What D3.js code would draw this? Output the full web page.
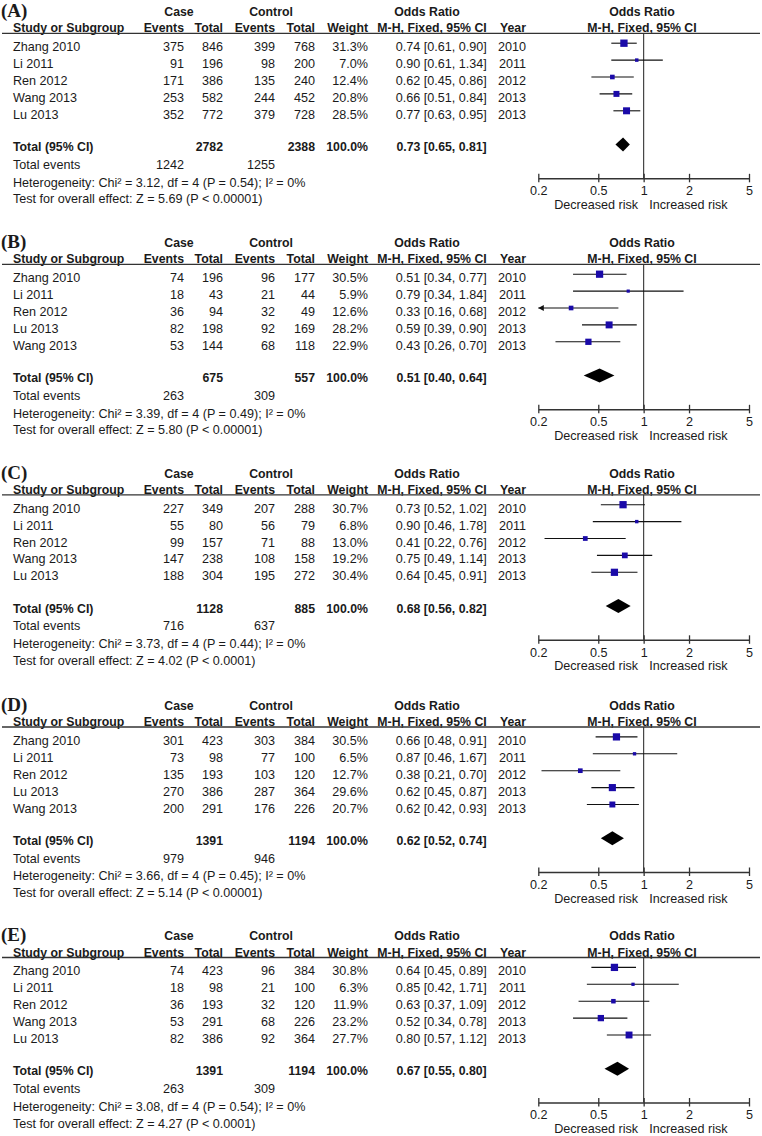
<!DOCTYPE html>
<html>
<head>
<meta charset="utf-8">
<script src="https://cdn.jsdelivr.net/npm/d3@7"></script>
<style>
  html, body { margin: 0; padding: 0; background: #fff; }
  svg { display: block; }
  text { font-family: "Liberation Sans", Arial, sans-serif; fill: #1a1a1a; }
</style>
</head>
<body>
<svg id="chart" width="762" height="1136"></svg>
<script>
// ---------------- DATA ----------------
const panelLabels = ["(A)", "(B)", "(C)", "(D)", "(E)"];

const studyNames = [
  ["Zhang 2010", "Li 2011", "Ren 2012", "Wang 2013", "Lu 2013"],
  ["Zhang 2010", "Li 2011", "Ren 2012", "Lu 2013", "Wang 2013"],
  ["Zhang 2010", "Li 2011", "Ren 2012", "Wang 2013", "Lu 2013"],
  ["Zhang 2010", "Li 2011", "Ren 2012", "Lu 2013", "Wang 2013"],
  ["Zhang 2010", "Li 2011", "Ren 2012", "Wang 2013", "Lu 2013"]
];
const caseEvents = [
  [375, 91, 171, 253, 352],
  [74, 18, 36, 82, 53],
  [227, 55, 99, 147, 188],
  [301, 73, 135, 270, 200],
  [74, 18, 36, 53, 82]
];
const caseTotals = [
  [846, 196, 386, 582, 772],
  [196, 43, 94, 198, 144],
  [349, 80, 157, 238, 304],
  [423, 98, 193, 386, 291],
  [423, 98, 193, 291, 386]
];
const controlEvents = [
  [399, 98, 135, 244, 379],
  [96, 21, 32, 92, 68],
  [207, 56, 71, 108, 195],
  [303, 77, 103, 287, 176],
  [96, 21, 32, 68, 92]
];
const controlTotals = [
  [768, 200, 240, 452, 728],
  [177, 44, 49, 169, 118],
  [288, 79, 88, 158, 272],
  [384, 100, 120, 364, 226],
  [384, 100, 120, 226, 364]
];
const weights = [
  [31.3, 7.0, 12.4, 20.8, 28.5],
  [30.5, 5.9, 12.6, 28.2, 22.9],
  [30.7, 6.8, 13.0, 19.2, 30.4],
  [30.5, 6.5, 12.7, 29.6, 20.7],
  [30.8, 6.3, 11.9, 23.2, 27.7]
];
const oddsRatios = [
  [0.74, 0.90, 0.62, 0.66, 0.77],
  [0.51, 0.79, 0.33, 0.59, 0.43],
  [0.73, 0.90, 0.41, 0.75, 0.64],
  [0.66, 0.87, 0.38, 0.62, 0.62],
  [0.64, 0.85, 0.63, 0.52, 0.80]
];
const ciLower = [
  [0.61, 0.61, 0.45, 0.51, 0.63],
  [0.34, 0.34, 0.16, 0.39, 0.26],
  [0.52, 0.46, 0.22, 0.49, 0.45],
  [0.48, 0.46, 0.21, 0.45, 0.42],
  [0.45, 0.42, 0.37, 0.34, 0.57]
];
const ciUpper = [
  [0.90, 1.34, 0.86, 0.84, 0.95],
  [0.77, 1.84, 0.68, 0.90, 0.70],
  [1.02, 1.78, 0.76, 1.14, 0.91],
  [0.91, 1.67, 0.70, 0.87, 0.93],
  [0.89, 1.71, 1.09, 0.78, 1.12]
];
const studyYears = [
  [2010, 2011, 2012, 2013, 2013],
  [2010, 2011, 2012, 2013, 2013],
  [2010, 2011, 2012, 2013, 2013],
  [2010, 2011, 2012, 2013, 2013],
  [2010, 2011, 2012, 2013, 2013]
];
const pooledOR    = [0.73, 0.51, 0.68, 0.62, 0.67];
const pooledLower = [0.65, 0.40, 0.56, 0.52, 0.55];
const pooledUpper = [0.81, 0.64, 0.82, 0.74, 0.80];
const totalCase    = [2782, 675, 1128, 1391, 1391];
const totalControl = [2388, 557, 885, 1194, 1194];
const totalEventsCase    = [1242, 263, 716, 979, 263];
const totalEventsControl = [1255, 309, 637, 946, 309];
const hetChi2 = ["3.12", "3.39", "3.73", "3.66", "3.08"];
const hetDf   = [4, 4, 4, 4, 4];
const hetP    = ["0.54", "0.49", "0.44", "0.45", "0.54"];
const hetI2   = [0, 0, 0, 0, 0];
const overallZ = ["5.69", "5.80", "4.02", "5.14", "4.27"];
const overallP = ["P < 0.00001", "P < 0.00001", "P < 0.0001", "P < 0.00001", "P < 0.0001"];
const axisTicks = [0.2, 0.5, 1, 2, 5];
const axisDomain = [0.2, 5];

// ---------------- LAYOUT ----------------
const svg = d3.select("#chart");
const panelLineY = [33.3, 264.3, 494.8, 727, 957.5];
const FS = 12.6, FSB = 12.3;
const col = { study: 13, caseEv: 184, caseTot: 223, ctrlEv: 275, ctrlTot: 315, weight: 368, or: 486.7, year: 526 };
const x = d3.scaleLog().domain(axisDomain).range([538.3, 749]);
const sizeScale = d3.scaleSqrt().domain([0, 100]).range([0, 13.1]);
const fmt2 = d3.format(".2f");
const fmtW = d3.format(".1f");
const rowCenter = i => 13.4 + 16.9 * i;
const textColor = "#1a1a1a";
const lineColor = "#333";
const squareColor = "#1a0aa8";

function txt(g, s, xx, yc, anchor, bold, size) {
  const fs = size || (bold ? FSB : FS);
  return g.append("text")
    .attr("x", xx)
    .attr("y", yc + fs * 0.358)
    .attr("text-anchor", anchor)
    .attr("font-size", fs)
    .attr("font-weight", bold ? "bold" : "normal")
    .text(s);
}

panelLabels.forEach((lab, p) => {
  const g = svg.append("g").attr("transform", `translate(0,${panelLineY[p]})`);

  // panel label
  g.append("text").attr("x", 1).attr("y", -16.3)
    .attr("font-weight", "bold").attr("font-size", 19)
    .style("font-family", "'Liberation Serif', 'Times New Roman', serif")
    .text(lab);

  // group headers
  txt(g, "Case", 179, -21.6, "middle", true);
  txt(g, "Control", 271, -21.6, "middle", true);
  txt(g, "Odds Ratio", 427, -21.6, "middle", true);
  txt(g, "Odds Ratio", 642, -21.6, "middle", true);

  // column headers
  const hy = -5.3;
  txt(g, "Study or Subgroup", col.study, hy, "start", true);
  txt(g, "Events", col.caseEv, hy, "end", true);
  txt(g, "Total", col.caseTot, hy, "end", true);
  txt(g, "Events", col.ctrlEv, hy, "end", true);
  txt(g, "Total", col.ctrlTot, hy, "end", true);
  txt(g, "Weight", col.weight, hy, "end", true);
  txt(g, "M-H, Fixed, 95% CI", col.or, hy, "end", true);
  txt(g, "Year", col.year, hy, "end", true);
  txt(g, "M-H, Fixed, 95% CI", 642, hy, "middle", true);

  // header rule
  g.append("line").attr("x1", 2).attr("x2", 760).attr("y1", 0).attr("y2", 0)
    .attr("stroke", lineColor).attr("stroke-width", 1.3);

  // study rows
  studyNames[p].forEach((name, i) => {
    const yc = rowCenter(i);
    txt(g, name, col.study, yc, "start", false);
    txt(g, caseEvents[p][i], col.caseEv, yc, "end", false);
    txt(g, caseTotals[p][i], col.caseTot, yc, "end", false);
    txt(g, controlEvents[p][i], col.ctrlEv, yc, "end", false);
    txt(g, controlTotals[p][i], col.ctrlTot, yc, "end", false);
    txt(g, fmtW(weights[p][i]) + "%", col.weight, yc, "end", false);
    txt(g, `${fmt2(oddsRatios[p][i])} [${fmt2(ciLower[p][i])}, ${fmt2(ciUpper[p][i])}]`, col.or, yc, "end", false);
    txt(g, studyYears[p][i], col.year, yc, "end", false);
  });

  // totals
  const ty = 113.4;
  txt(g, "Total (95% CI)", col.study, ty, "start", true);
  txt(g, totalCase[p], col.caseTot, ty, "end", true);
  txt(g, totalControl[p], col.ctrlTot, ty, "end", true);
  txt(g, "100.0%", col.weight, ty, "end", true);
  txt(g, `${fmt2(pooledOR[p])} [${fmt2(pooledLower[p])}, ${fmt2(pooledUpper[p])}]`, col.or, ty, "end", true);
  txt(g, "Total events", col.study, 131, "start", false);
  txt(g, totalEventsCase[p], col.caseEv, 131, "end", false);
  txt(g, totalEventsControl[p], col.ctrlEv, 131, "end", false);
  txt(g, `Heterogeneity: Chi\u00B2 = ${hetChi2[p]}, df = ${hetDf[p]} (P = ${hetP[p]}); I\u00B2 = ${hetI2[p]}%`, col.study, 148.7, "start", false);
  txt(g, `Test for overall effect: Z = ${overallZ[p]} (${overallP[p]})`, col.study, 165.5, "start", false);

  // forest plot
  const axisY = 145;
  g.append("line").attr("x1", x(1)).attr("x2", x(1)).attr("y1", 0).attr("y2", axisY)
    .attr("stroke", lineColor).attr("stroke-width", 1.1);

  const rows = studyNames[p].map((n, i) => ({
    i, or: oddsRatios[p][i], lo: ciLower[p][i], hi: ciUpper[p][i], w: weights[p][i]
  }));
  const mk = g.append("g");
  rows.forEach(r => {
    const ym = rowCenter(r.i) - 3.5;
    const lo = Math.max(r.lo, axisDomain[0]);
    const hi = Math.min(r.hi, axisDomain[1]);
    mk.append("line").attr("x1", x(lo)).attr("x2", x(hi)).attr("y1", ym).attr("y2", ym)
      .attr("stroke", "#111").attr("stroke-width", 1.1);
    if (r.lo < axisDomain[0]) {
      const ax = x(axisDomain[0]);
      mk.append("path").attr("d", `M${ax},${ym} L${ax + 5.5},${ym - 3} L${ax + 5.5},${ym + 3} Z`)
        .attr("fill", "#111");
    }
    if (r.hi > axisDomain[1]) {
      const ax = x(axisDomain[1]);
      mk.append("path").attr("d", `M${ax},${ym} L${ax - 5.5},${ym - 3} L${ax - 5.5},${ym + 3} Z`)
        .attr("fill", "#111");
    }
    const s = sizeScale(r.w);
    mk.append("rect").attr("x", x(r.or) - s / 2).attr("y", ym - s / 2)
      .attr("width", s).attr("height", s).attr("fill", squareColor);
  });

  // pooled diamond
  const dy = 111.2, dh = 7;
  g.append("path")
    .attr("d", `M${x(pooledLower[p])},${dy} L${x(pooledOR[p])},${dy - dh} L${x(pooledUpper[p])},${dy} L${x(pooledOR[p])},${dy + dh} Z`)
    .attr("fill", "#000");

  // axis
  const axis = d3.axisBottom(x).tickValues(axisTicks).tickFormat(d => String(d))
    .tickSize(4).tickSizeOuter(0).tickPadding(4);
  const ag = g.append("g").attr("transform", `translate(0,${axisY})`).call(axis);
  ag.select(".domain").attr("stroke", lineColor).attr("stroke-width", 1.5);
  ag.selectAll(".tick line").attr("y1", -4.5).attr("y2", 4).attr("stroke", lineColor).attr("stroke-width", 1.3);
  ag.selectAll(".tick text").attr("font-size", FS).attr("fill", textColor)
    .style("font-family", "'Liberation Sans', Arial, sans-serif");

  txt(g, "Decreased risk", x(1) - 5.5, 171, "end", false);
  txt(g, "Increased risk", x(1) + 5.5, 171, "start", false);
});
</script>
</body>
</html>
